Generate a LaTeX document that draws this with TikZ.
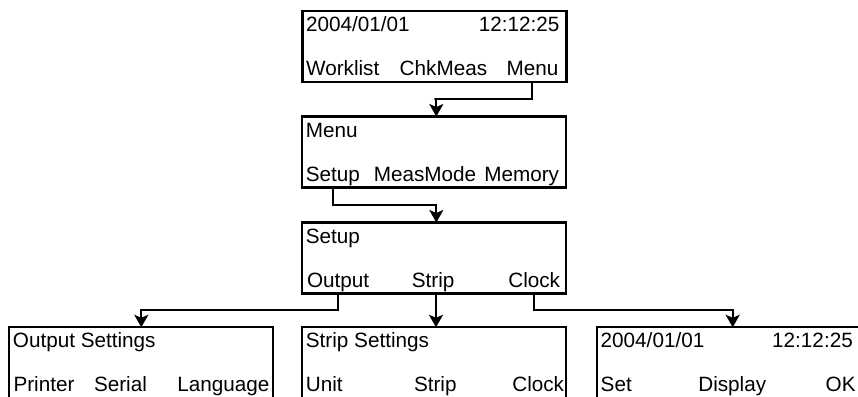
\documentclass[tikz,border=0pt]{standalone}
\usepackage{fontspec}
\setmainfont{Liberation Sans}
\usetikzlibrary{calc,arrows.meta}
\newcommand\lcdfont{\fontsize{20.7}{24}\selectfont}
\tikzset{
  screen/.style={draw, line width=2.2pt, minimum width=264pt, minimum height=71pt,
                 inner sep=0pt, outer sep=0pt, anchor=north west},
  lbl/.style={anchor=base west, inner sep=0pt, outer sep=0pt, font=\lcdfont},
  lblr/.style={anchor=base east, inner sep=0pt, outer sep=0pt, font=\lcdfont},
  link/.style={line width=2pt, -{Stealth[length=12.5pt,width=14pt,inset=3pt]}}
}
\begin{document}
\begin{tikzpicture}[x=1pt,y=-1pt]
  \useasboundingbox (0,0) rectangle (858,396);
  \clip (0,0) rectangle (858,396);

  % screens
  \node[screen] (home)  at (302.5,11)  {};
  \node[screen] (menu)  at (302.3,116.5) {};
  \node[screen] (setup) at (302.3,222.5) {};
  \node[screen] (outs)  at (9.3,327.3) {};
  \node[screen] (strip) at (302.3,327.3) {};
  \node[screen] (clock) at (596.7,327.3) {};

  % home screen
  \node[lbl]  (h1) at ($(home.north west)+(3.6,20.5)$) {2004/01/01};
  \node[lblr] (h2) at ($(home.north east)+(-7,20.5)$) {12:12:25};
  \node[lbl]  (h3) at ($(home.north west)+(3.6,64.5)$) {Worklist};
  \node[lbl]  (h4) at ($(home.north west)+(97.2,64.5)$) {ChkMeas};
  \node[lbl]  (h5) at ($(home.north west)+(204,64.5)$) {Menu};

  % menu screen
  \node[lbl] (m1) at ($(menu.north west)+(3.6,20.5)$) {Menu};
  \node[lbl] (m2) at ($(menu.north west)+(3.6,64.5)$) {Setup};
  \node[lbl] (m3) at ($(menu.north west)+(71.5,64.5)$) {MeasMode};
  \node[lbl] (m4) at ($(menu.north west)+(182,64.5)$) {Memory};

  % setup screen
  \node[lbl] (s1) at ($(setup.north west)+(3.6,20.5)$) {Setup};
  \node[lbl] (s2) at ($(setup.north west)+(4.8,64.5)$) {Output};
  \node[lbl] (s3) at ($(setup.north west)+(109.5,64.5)$) {Strip};
  \node[lbl] (s4) at ($(setup.north west)+(206,64.5)$) {Clock};

  % output settings
  \node[lbl] (o1) at ($(outs.north west)+(3.6,20.5)$) {Output Settings};
  \node[lbl] (o2) at ($(outs.north west)+(4.2,64.5)$) {Printer};
  \node[lbl] (o3) at ($(outs.north west)+(84.7,64.5)$) {Serial};
  \node[lbl] (o4) at ($(outs.north west)+(168,64.5)$) {Language};

  % strip settings
  \node[lbl] (p1) at ($(strip.north west)+(3.6,20.5)$) {Strip Settings};
  \node[lbl] (p2) at ($(strip.north west)+(3.6,64.5)$) {Unit};
  \node[lbl] (p3) at ($(strip.north west)+(111.7,64.5)$) {Strip};
  \node[lbl] (p4) at ($(strip.north west)+(210,64.5)$) {Clock};

  % clock screen
  \node[lbl] (c1) at ($(clock.north west)+(4,20.5)$) {2004/01/01};
  \node[lbl] (c2) at ($(clock.north west)+(175.5,20.5)$) {12:12:25};
  \node[lbl] (c3) at ($(clock.north west)+(4,64.5)$) {Set};
  \node[lbl] (c4) at ($(clock.north west)+(101.6,64.5)$) {Display};
  \node[lbl] (c5) at ($(clock.north west)+(229,64.5)$) {OK};

  % navigation links
  \draw[link] (home.south -| h5.south) |- ($(home.south)!.5!(menu.north)$)
              -| ([xshift=2pt]menu.north);
  \draw[link] (menu.south -| m2.south) |- ($(menu.south)!.5!(setup.north)$)
              -| ([xshift=2pt]setup.north);
  \draw[link] (setup.south -| s2.south) |- ($(setup.south)!.5!(outs.north)$)
              -| (outs.north);
  \draw[link] ([xshift=1.7pt]setup.south) -- ([xshift=1.7pt]strip.north);
  \draw[link] (setup.south -| s4.south) |- ($(setup.south)!.5!(clock.north)$)
              -| ([xshift=4pt]clock.north);
\end{tikzpicture}
\end{document}
